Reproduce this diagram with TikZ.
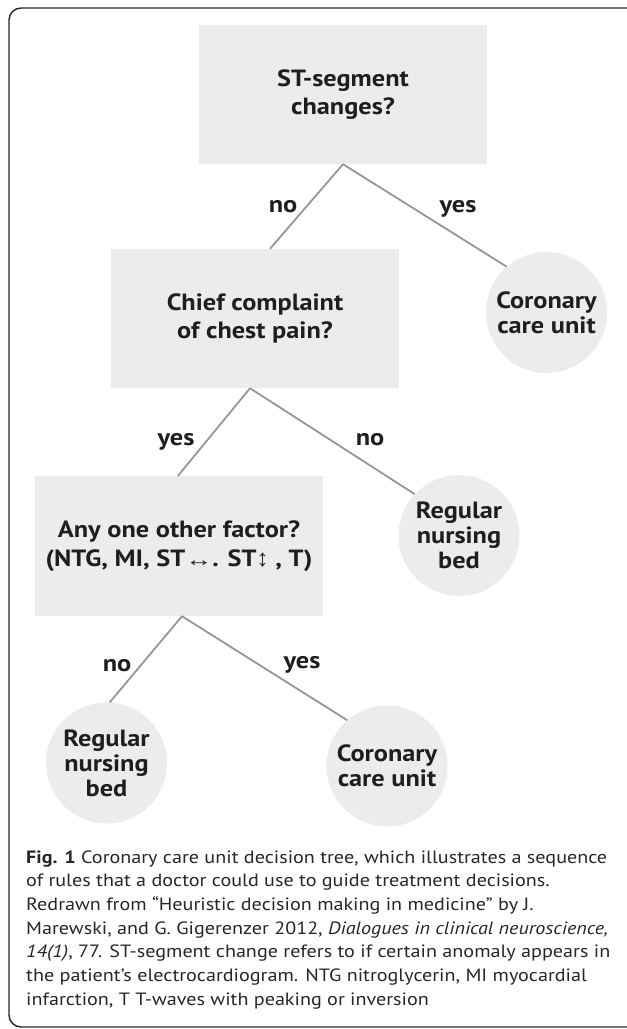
\documentclass[tikz,border=0pt]{standalone}
\usepackage{graphicx}
\usepackage{fontspec}
\setmainfont{PT Sans}
\newfontfamily\labelfont{PT Sans}[FakeStretch=1.12]
\newfontfamily\arrowfont{Liberation Sans}
\definecolor{boxgray}{RGB}{235,236,236}
\definecolor{linegray}{RGB}{150,150,150}
\definecolor{inkblack}{RGB}{30,30,30}
\newlength{\firstcapwidth}

\begin{document}
% first caption line is stretched to the frame width
\settowidth{\firstcapwidth}{\fontsize{17.8}{20}\selectfont\textbf{Fig. 1} Coronary care unit decision tree, which illustrates a sequence}%
\pgfmathsetmacro{\capscale}{581/\firstcapwidth}%
\begin{tikzpicture}[x=1pt, y=-1pt,
  question/.style={fill=boxgray, minimum width=288pt, inner sep=0pt, align=center,
    text=inkblack, font=\labelfont\bfseries\fontsize{23.5}{28.5}\selectfont},
  outcome/.style={circle, fill=boxgray, minimum size=121pt, inner sep=0pt, align=center,
    text=inkblack, font=\labelfont\bfseries\fontsize{23.5}{25}\selectfont},
  branch/.style={draw=linegray, line width=1.8pt},
  answer/.style={anchor=base, text=inkblack, font=\labelfont\bfseries\fontsize{23.5}{23.5}\selectfont},
  caption/.style={anchor=base west, inner sep=0pt, text=black!85, font=\fontsize{17.8}{20}\selectfont},
  frame/.style={draw=black!85, line width=1.4pt, rounded corners=12pt}]
  \useasboundingbox (0,0) rectangle (627,1029);

  % Outer frame
  \draw[frame] (9,8) rectangle (680,1027);

  % Decision boxes
  \node[question, minimum height=139pt] (q1) at (343,94.5) {ST-segment\\changes?};
  \node[question, minimum height=139pt] (q2) at (255,318.5) {Chief complaint\\of chest pain?};
  \node[question, minimum height=140pt] (q3) at (179,546)
    {Any one other factor?\\(NTG, MI, ST{\arrowfont\mdseries\fontsize{20}{20}\selectfont\scalebox{1.35}[1]{↔}}. ST{\arrowfont\mdseries\fontsize{24}{24}\selectfont ↕} , T)};

  % Outcomes
  \node[outcome] (ccu1) at (546.5,312.5) {Coronary\\care unit};
  \node[outcome] (rnb1) at (459,535.5) {Regular\\nursing\\bed};
  \node[outcome] (rnb2) at (106.5,763) {Regular\\nursing\\bed};
  \node[outcome] (ccu2) at (387,766) {Coronary\\care unit};

  % Branches
  \draw[branch] (q1.south) -- ([xshift=15pt]q2.north);
  \draw[branch] (q1.south) -- (ccu1.131);
  \draw[branch] ([xshift=-5pt]q2.south) -- ([xshift=-1pt]q3.north);
  \draw[branch] ([xshift=-5pt]q2.south) -- (rnb1.137);
  \draw[branch] ([xshift=3pt]q3.south) -- (rnb2.87);
  \draw[branch] ([xshift=3pt]q3.south) -- (ccu2.131);

  % Branch answers
  \node[answer] (a1) at (283,212) {no};
  \node[answer] (a2) at (458,212) {yes};
  \node[answer] (a3) at (176,445) {yes};
  \node[answer] (a4) at (370,445) {no};
  \node[answer] (a5) at (117,671) {no};
  \node[answer] (a6) at (302,668) {yes};

  % Caption
  \foreach \n/\txt in {
    1/{\textbf{Fig. 1} Coronary care unit decision tree, which illustrates a sequence},
    2/{of rules that a doctor could use to guide treatment decisions.},
    3/{Redrawn from “Heuristic decision making in medicine” by J.},
    4/{Marewski, and G. Gigerenzer 2012, \textit{Dialogues in clinical neuroscience,}},
    5/{\textit{14(1)}, 77. ST-segment change refers to if certain anomaly appears in},
    6/{the patient’s electrocardiogram. NTG nitroglycerin, MI myocardial},
    7/{infarction, T T-waves with peaking or inversion}}
    \node[caption] (cap\n) at (26,{863+23.7*(\n-1)}) {\scalebox{\capscale}[1]{\txt}};
\end{tikzpicture}
\end{document}
